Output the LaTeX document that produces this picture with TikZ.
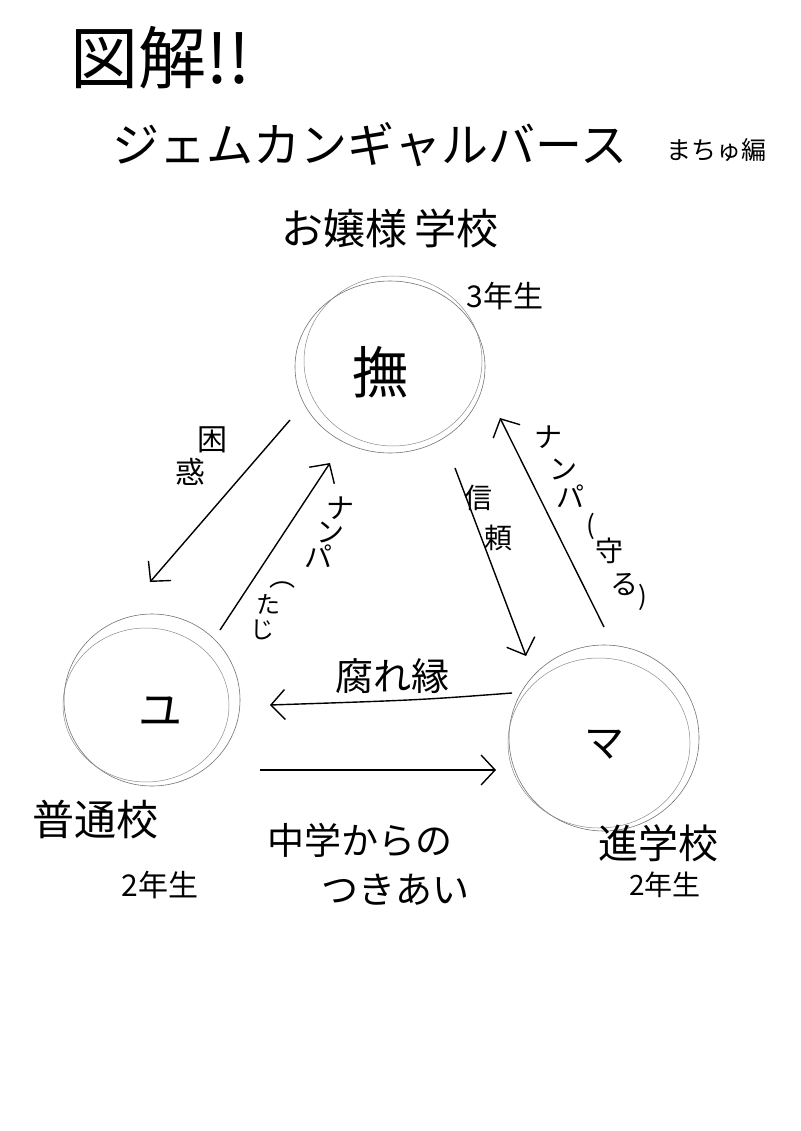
\documentclass[tikz,border=0pt]{standalone}
\usepackage{fontspec}
\setmainfont{Noto Sans CJK JP}
\usetikzlibrary{arrows.meta,shapes.geometric}
\begin{document}
\begin{tikzpicture}[x=1pt,y=-1pt,
  circ/.style={draw=black!55,line width=0.6pt,ellipse,inner sep=0pt},
  circb/.style={draw=black!45,line width=0.5pt},
  conn/.style={line width=1.4pt,-{Straight Barb[length=14pt,width=30pt,line width=1.4pt]}},
  lbl/.style={inner sep=0pt,font=\fontsize{#1}{#1}\selectfont},
]
\useasboundingbox[fill=white] (0,0) rectangle (800,1131);

% titles
\node[lbl=68] (t1) at (160,58) {図解!!};
\node[lbl=47] (t2) at (370,145) {ジェムカンギャルバース};
\node[lbl=25] (t3) at (716,150) {まちゅ編};
\node[lbl=42] (t4) at (390,228) {お嬢様\,学校};
\node[lbl=30] (t5) at (505,296) {3年生};

% circles
\node[circ,minimum width=190pt,minimum height=172pt] (top) at (390,367) {};
\draw[circb] (393,361) ellipse [x radius=89, y radius=85];
\node[lbl=56] (topt) at (380,372) {撫};

\node[circ,minimum width=176pt,minimum height=172pt] (left) at (152,700) {};
\draw[circb] (146,705) ellipse [x radius=83, y radius=77];
\node[lbl=44] (leftt) at (160,712) {ユ};

\node[circ,minimum width=190pt,minimum height=186pt] (right) at (604,738) {};
\draw[circb] (599,743) ellipse [x radius=91, y radius=85];
\node[lbl=40] (rightt) at (604,745) {マ};

% connector endpoints
\coordinate (a1s) at (290,420);
\coordinate (a1e) at (150,582);
\coordinate (a2s) at (220,630);
\coordinate (a2e) at (330,463);
\coordinate (a3s) at (455,468);
\coordinate (a3e) at (526,656);
\coordinate (a4s) at (604,627);
\coordinate (a4e) at (500,418);
\coordinate (a5s) at (512,693);
\coordinate (a5e) at (270,705);
\coordinate (a6s) at (260,770);
\coordinate (a6e) at (496,770);

\draw[conn] (a1s) -- (a1e);
\draw[conn] (a2s) -- (a2e);
\draw[conn] (a3s) -- (a3e);
\draw[conn] (a4s) -- (a4e);
\draw[conn] (a5s) .. controls (420,700) .. (a5e);
\draw[conn] (a6s) -- (a6e);

% labels on connectors
\node[lbl=30] (l1a) at (212,440) {困};
\node[lbl=30] (l1b) at (190,472) {惑};

\node[lbl=28] (l2a) at (340,508) {ナ};
\node[lbl=28] (l2b) at (330,532) {ン};
\node[lbl=28] (l2c) at (318,556) {パ};
\node[lbl=26] (l2d) at (282,585) {︵};
\node[lbl=24] (l2e) at (268,604) {た};
\node[lbl=24] (l2f) at (262,630) {じ};

\node[lbl=28] (l3a) at (478,498) {信};
\node[lbl=28] (l3b) at (498,538) {頼};

\node[lbl=28] (l4a) at (548,437) {ナ};
\node[lbl=28] (l4b) at (563,470) {ン};
\node[lbl=28] (l4c) at (570,496) {パ};
\node[lbl=26] (l4d) at (591,526) {(};
\node[lbl=28] (l4e) at (609,551) {守};
\node[lbl=28] (l4f) at (624,585) {る};
\node[lbl=26] (l4g) at (643,597) {)};

\node[lbl=38] (l5) at (392,676) {腐れ縁};

\node[lbl=37] (l6a) at (360,840) {中学からの};
\node[lbl=37] (l6b) at (395,890) {つきあい};

% school labels
\node[lbl=42] (s1) at (95,820) {普通校};
\node[lbl=30] (s1b) at (160,885) {2年生};
\node[lbl=40] (s2) at (658,843) {進学校};
\node[lbl=28] (s2b) at (665,885) {2年生};
\end{tikzpicture}
\end{document}
